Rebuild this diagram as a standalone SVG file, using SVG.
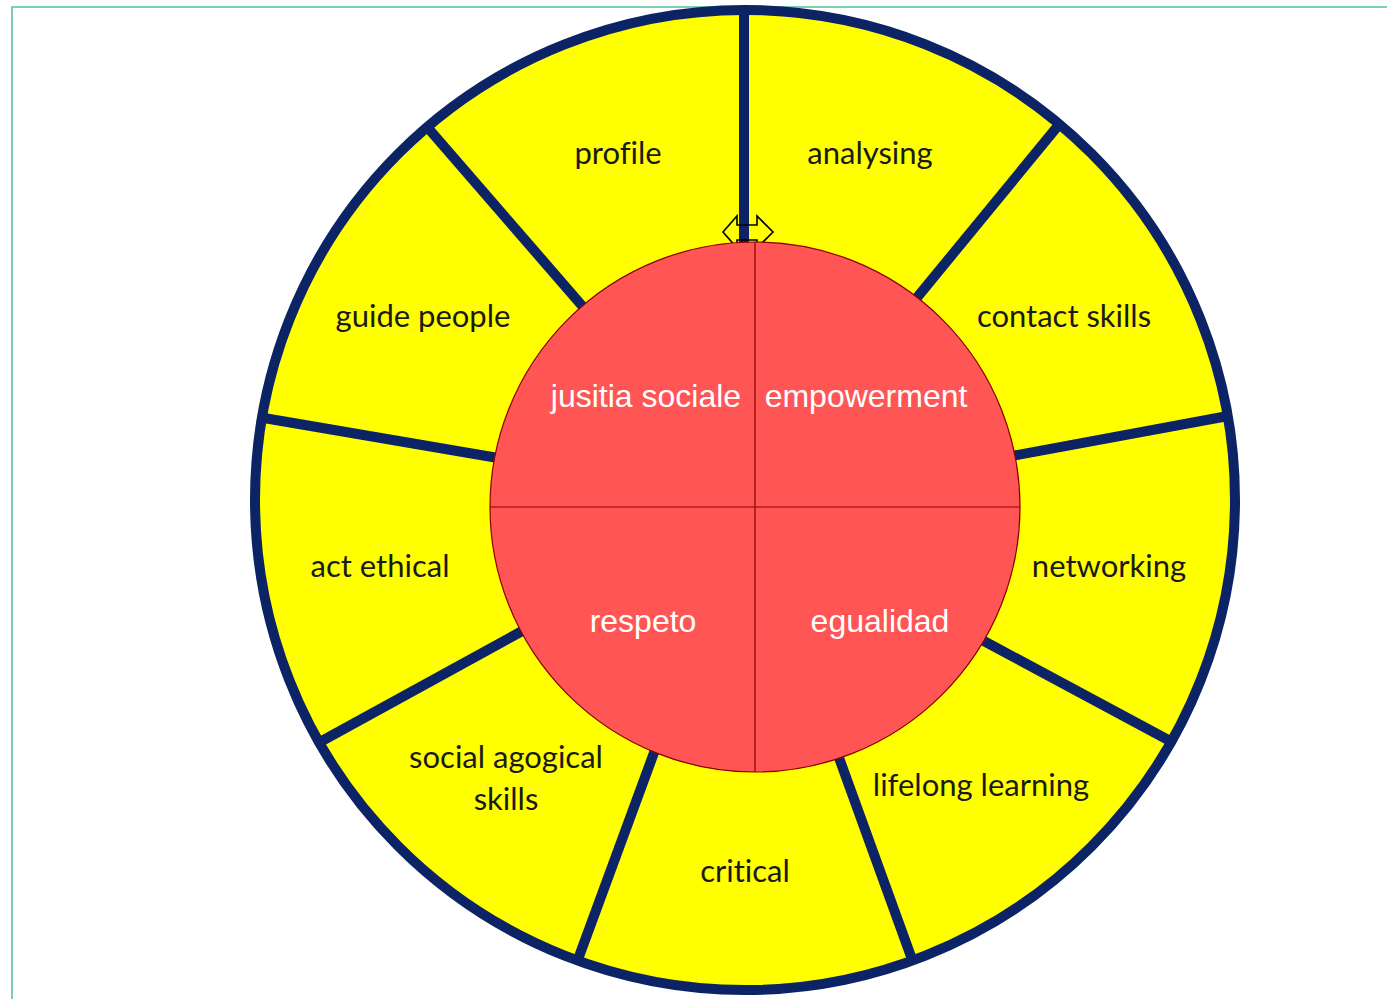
<svg xmlns="http://www.w3.org/2000/svg" width="1387" height="999" viewBox="0 0 1387 999">
<style>
.frame{stroke:#7ccfb0;stroke-width:2;fill:none}
.ring{fill:#ffff00;stroke:#0c2466;stroke-width:10}
.spoke{stroke:#0c2466;stroke-width:10;stroke-linecap:butt}
.core{fill:#ff5555;stroke:#8b0000;stroke-width:1.2}
.div{stroke:#8b0000;stroke-width:1.2}
.lbl{font-family:Lato,"Open Sans",sans-serif;font-size:31px;fill:#1a1a1a;text-anchor:middle;font-variant-ligatures:none}
.in{font-family:"Liberation Sans",Arial,sans-serif;font-size:32px;fill:#ffffff;text-anchor:middle}
.icon{fill:none;stroke:#000;stroke-width:1.6;stroke-linejoin:miter}
</style>
<rect width="1387" height="999" fill="#ffffff"/>
<path class="frame" d="M12 999 V7 H1387"/>
<g id="wheel">
<circle class="ring" cx="745" cy="500" r="490"/>
</g>
<g id="connectors">
<line class="spoke" x1="744" y1="12" x2="744" y2="245"/>
<line class="spoke" x1="1057" y1="127" x2="915" y2="300"/>
<line class="spoke" x1="1228" y1="416" x2="1012" y2="456"/>
<line class="spoke" x1="982" y1="640" x2="1172" y2="742"/>
<line class="spoke" x1="838" y1="755" x2="913" y2="962"/>
<line class="spoke" x1="655" y1="750" x2="577" y2="962"/>
<line class="spoke" x1="524" y1="630" x2="320" y2="742"/>
<line class="spoke" x1="258" y1="417" x2="498" y2="458"/>
<line class="spoke" x1="428" y1="128" x2="584" y2="308"/>
<polygon class="icon" points="723,232 737,216 737,225 757,225 757,216 773,232 757,248 757,240 737,240 737,248"/>
</g>
<g id="core">
<circle class="core" cx="755" cy="507" r="265"/>
<line class="div" x1="755" y1="242" x2="755" y2="772"/>
<line class="div" x1="490" y1="507" x2="1020" y2="507"/>
</g>
<g id="n-profile"><text class="lbl" x="618" y="164">profile</text></g>
<g id="n-analysing"><text class="lbl" x="870" y="164">analysing</text></g>
<g id="n-guide"><text class="lbl" x="423" y="327">guide people</text></g>
<g id="n-contact"><text class="lbl" x="1064" y="327">contact skills</text></g>
<g id="n-act"><text class="lbl" x="380" y="577">act ethical</text></g>
<g id="n-networking"><text class="lbl" x="1109" y="577">networking</text></g>
<g id="n-social"><text class="lbl" x="506" y="768">social agogical</text><text class="lbl" x="506" y="810">skills</text></g>
<g id="n-lifelong"><text class="lbl" x="981" y="796">lifelong learning</text></g>
<g id="n-critical"><text class="lbl" x="745" y="882">critical</text></g>
<g id="n-justicia"><text class="in" x="646" y="407">jusitia sociale</text></g>
<g id="n-empowerment"><text class="in" x="866" y="407">empowerment</text></g>
<g id="n-respeto"><text class="in" x="643" y="632">respeto</text></g>
<g id="n-egualidad"><text class="in" x="880" y="632">egualidad</text></g>
</svg>
